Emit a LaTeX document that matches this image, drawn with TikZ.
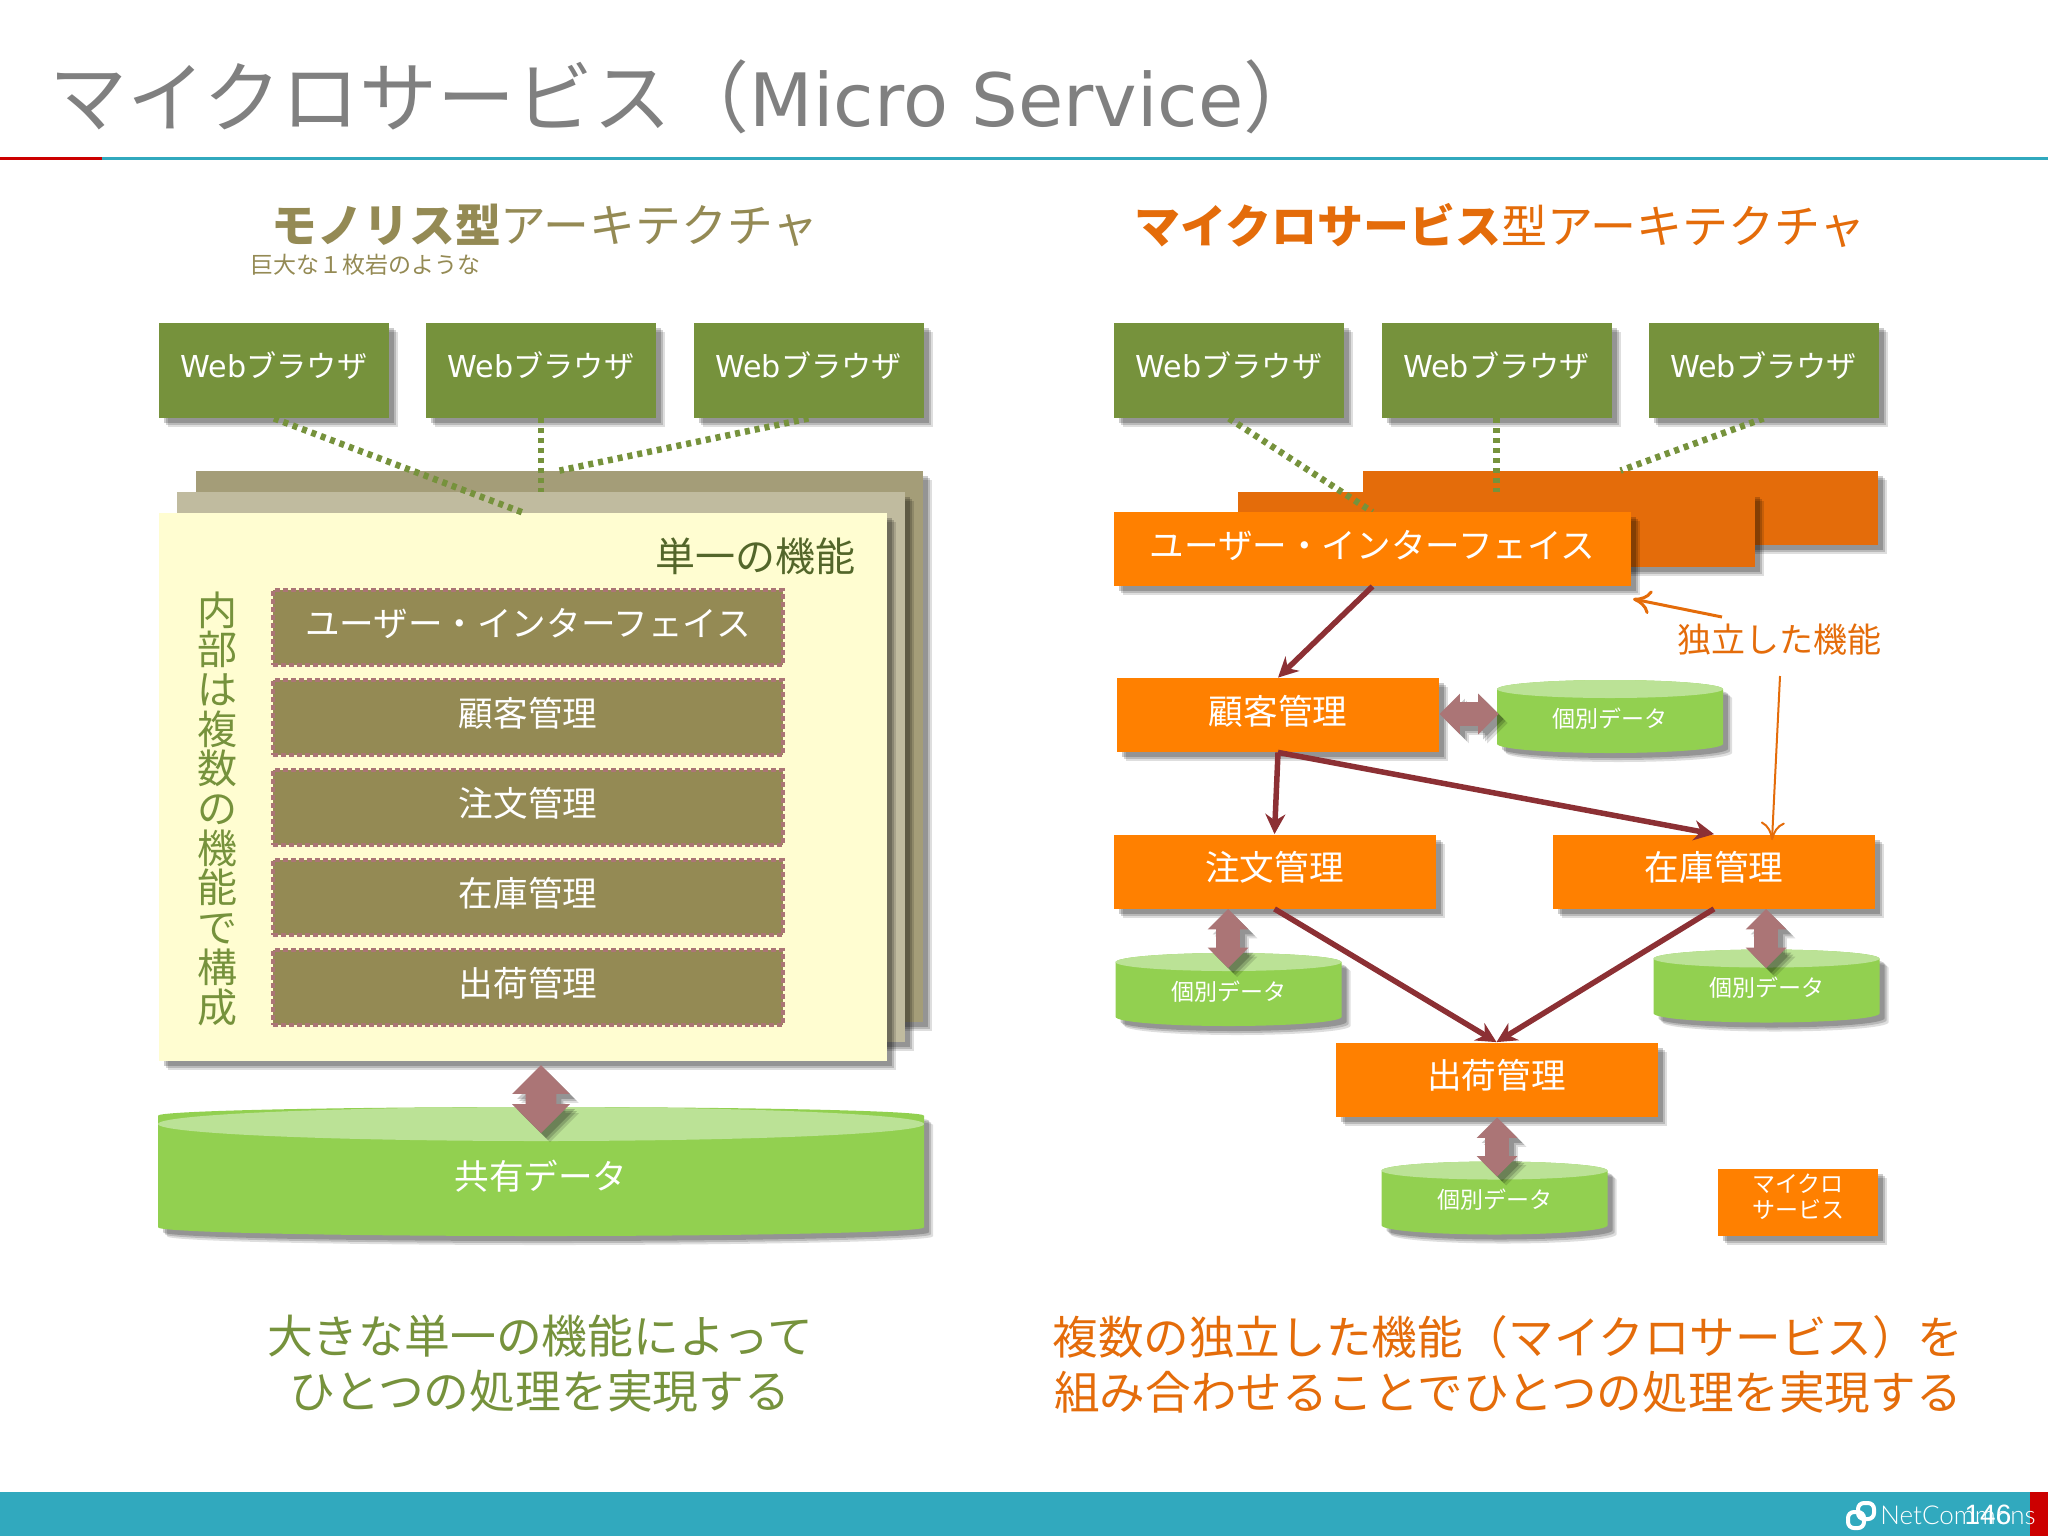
\documentclass[tikz,border=0pt]{standalone}
\usepackage{fontspec}
\setmainfont{DejaVu Sans}
\newfontfamily\jp{Noto Sans CJK JP}
\usetikzlibrary{shapes.geometric,shapes.arrows,shadows,arrows.meta}
\definecolor{olive}{HTML}{948A54}
\definecolor{leaf}{HTML}{76923C}
\definecolor{amber}{HTML}{FF8000}
\definecolor{rust}{HTML}{E46C0A}
\definecolor{wine}{HTML}{8C3034}
\definecolor{rose}{HTML}{AB7576}
\definecolor{teal2}{HTML}{31A9BE}
\definecolor{grass}{HTML}{92D050}
\definecolor{grasstop}{HTML}{BBE296}
\begin{document}
\begin{tikzpicture}[
x=0.5pt,y=-0.5pt,
sh/.style={drop shadow={shadow xshift=4.5pt,shadow yshift=-4.5pt,opacity=.13,fill=black},
drop shadow={shadow xshift=3.5pt,shadow yshift=-3.5pt,opacity=.17,fill=black},
drop shadow={shadow xshift=2.5pt,shadow yshift=-2.5pt,opacity=.2,fill=black}},
j/.style={font=\jp\fontsize{#1}{#1}\selectfont,inner sep=0pt},
dbtop/.style 2 args={path picture={\fill[grasstop] ([yshift=-#2]path picture bounding box.north) ellipse [x radius=#1,y radius=#2];}}
]

\tikzstyle{web} = [fill=leaf,sh,text=white,font=\fontsize{15.1}{18}\selectfont,minimum width=115pt,minimum height=47.5pt,inner sep=0pt,text height=12pt,text depth=5pt]
\tikzstyle{pan} = [sh,shape=rectangle,inner sep=0pt]
\tikzstyle{inn} = [fill=olive,draw=rose,line width=2pt,dash pattern=on 2.5pt off 1.5pt,text=white,j=17.3,minimum width=255pt,minimum height=37.5pt,text height=13pt,text depth=4pt]
\tikzstyle{svc} = [fill=amber,sh,text=white,j=17.3,minimum width=161pt,minimum height=37pt,text height=13pt,text depth=4pt]
\tikzstyle{db} = [cylinder,shape border rotate=90,anchor=shape center,fill=grass,sh,text=white,j=11.5,minimum width=113pt,minimum height=36.5pt,aspect=0.16,dbtop={56.5pt}{4.5pt},text height=9pt,text depth=3pt]
\tikzstyle{dbl} = [double arrow,fill=rose,sh,rotate=90,inner xsep=0pt,inner ysep=5.75pt,double arrow head indent=0pt,double arrow head extend=4.25pt,minimum height=29.5pt]
\tikzstyle{wlink} = [draw=leaf,line width=3.25pt,dash pattern=on 2.5pt off 2.5pt]
\tikzstyle{flow} = [draw=wine,line width=2.75pt,-{Stealth[length=10pt,width=10pt]}]
\tikzstyle{note} = [draw=rust,-{To[length=9pt,width=12pt]}]

\useasboundingbox (0,0) rectangle (2048,1536);

\node[j=39,anchor=west,text=black!50] (title) at (49,97) {\jp マイクロサービス（{\fontspec{DejaVu Sans}\fontsize{36.8}{39}\selectfont Micro Service}）};
\draw[red!80!black,line width=1.5pt] (0,158) -- (102,158);
\draw[teal2,line width=1.5pt] (102,158) -- (2048,158);

\node[j=22.9,text=olive] (headl) at (545,225) {\textbf{モノリス型}アーキテクチャ};
\node[j=11.5,text=olive] (subl) at (365,265) {巨大な１枚岩のような};
\node[j=23,text=rust] (headr) at (1500,225) {\textbf{マイクロサービス}型アーキテクチャ};

\node[web] (wa) at (274,370.5) {Web{\jp ブラウザ}};
\node[web] (wb) at (541,370.5) {Web{\jp ブラウザ}};
\node[web] (wc) at (808.5,370.5) {Web{\jp ブラウザ}};
\node[web] (wd) at (1229,370.5) {Web{\jp ブラウザ}};
\node[web] (we) at (1496.5,370.5) {Web{\jp ブラウザ}};
\node[web] (wf) at (1763.5,370.5) {Web{\jp ブラウザ}};

\node[pan,fill=black!10!olive!75,minimum width=363.5pt,minimum height=275.5pt] (mback) at (559.5,746.5) {};
\node[pan,fill=black!5!olive!55,minimum width=364pt,minimum height=275pt] (mmid) at (541,767) {};
\node[pan,fill=yellow!18,minimum width=364pt,minimum height=274pt] (mfront) at (523,787) {};
\draw[wlink] (wa.south) -- (mfront.north);
\draw[wlink] (wb.south) -- (mmid.north);
\draw[wlink] (wc.south) -- (mback.north);

\node[j=20,text=leaf!70!black] (single) at (755,556) {単一の機能};
\node[j=20,text=leaf,align=center,font=\jp\fontsize{20}{19.85}\selectfont] (inside) at (217,808.5) {内\\部\\は\\複\\数\\の\\機\\能\\で\\構\\成};
\node[inn] (ui) at (528,627.5) {ユーザー・インターフェイス};
\node[inn] (cu) at (528,717.5) {顧客管理};
\node[inn] (or) at (528,807.5) {注文管理};
\node[inn] (st) at (528,897.5) {在庫管理};
\node[inn] (sh) at (528,987.5) {出荷管理};

\node[db,minimum width=383pt,minimum height=64.5pt,aspect=0.1,j=17.3,dbtop={191.5pt}{8.5pt},text height=15pt,text depth=2pt] (shared) at (541,1171.5) {共有データ};
\node[dbl,inner ysep=7.5pt,double arrow head extend=6.75pt,minimum height=34pt] (sa) at (541,1099) {};

\node[pan,fill=rust,minimum width=257.5pt,minimum height=37pt] (rback) at (1620.5,508) {};
\node[pan,fill=rust,minimum width=258.5pt,minimum height=37.5pt] (rmid) at (1496.5,529.5) {};
\draw[wlink] (wd.south) -- (1372.5,512);
\draw[wlink] (we.south) -- (rmid.north);
\draw[wlink] (wf.south) -- (rback.north);
\node[svc,minimum width=258.5pt] (rui) at (1372.5,549) {ユーザー・インターフェイス};

\node[svc] (rcu) at (1278,715) {顧客管理};
\node[svc] (ror) at (1274.5,871.5) {注文管理};
\node[svc] (rst) at (1714,871.5) {在庫管理};
\node[svc] (rsh) at (1496.5,1079.5) {出荷管理};

\node[db] (dcu) at (1610,716.5) {個別データ};
\node[db] (dor) at (1228.5,989.5) {個別データ};
\node[db] (dst) at (1766.5,986) {個別データ};
\node[db] (dsh) at (1494.5,1198) {個別データ};

\node[dbl,rotate=-90] (acu) at (1469,714) {};
\node[dbl] (aor) at (1228,938.5) {};
\node[dbl] (ast) at (1766,938.5) {};
\node[dbl] (ash) at (1497,1147) {};

\draw[flow] (rui.south) -- (rcu.north);
\draw[flow] (rcu.south) -- (ror.north);
\draw[flow] (rcu.south) -- (rst.north);
\draw[flow] (ror.south) -- (rsh.north);
\draw[flow] (rst.south) -- (rsh.north);

\node[j=17,text=rust] (indep) at (1779,640) {独立した機能};
\coordinate (na) at (1722,617);
\coordinate (nb) at (1633,599);
\coordinate (nc) at (1780,676);
\coordinate (nd) at (1772,840);
\draw[note,line width=1.5pt] (na) -- (nb);
\draw[note,line width=1pt] (nc) -- (nd);

\node[fill=amber,sh,text=white,j=11.5,align=center,font=\jp\fontsize{11.5}{13}\selectfont,minimum width=80pt,minimum height=33.5pt,text depth=6.2pt] (legend) at (1798,1202.5) {マイクロ\\サービス};

\node[j=22.9,align=center,font=\jp\fontsize{22.9}{27.5}\selectfont,text=leaf] (botl) at (540,1364) {大きな単一の機能によって\\ひとつの処理を実現する};
\node[j=22.8,align=center,font=\jp\fontsize{22.8}{27.5}\selectfont,text=rust] (botr) at (1508,1364) {複数の独立した機能（マイクロサービス）を\\組み合わせることでひとつの処理を実現する};

\fill[teal2] (0,1492) rectangle (2048,1536);
\fill[red!80!black] (2030,1492) rectangle (2048,1536);
\draw[white,line width=2pt,rounded corners=3pt] (1848,1512) rectangle (1864,1528);
\draw[white,line width=2pt,rounded corners=3pt] (1858,1503) rectangle (1874,1519);
\node[text=white,inner sep=0pt,anchor=west,font=\fontspec{Lato Light}\fontsize{13}{13}\selectfont] (brand) at (1880,1515) {NetCommons};
\node[text=white,inner sep=0pt,font=\fontspec{Liberation Sans}\fontsize{14}{14}\selectfont] (page) at (1988,1515) {146};
\end{tikzpicture}
\end{document}
